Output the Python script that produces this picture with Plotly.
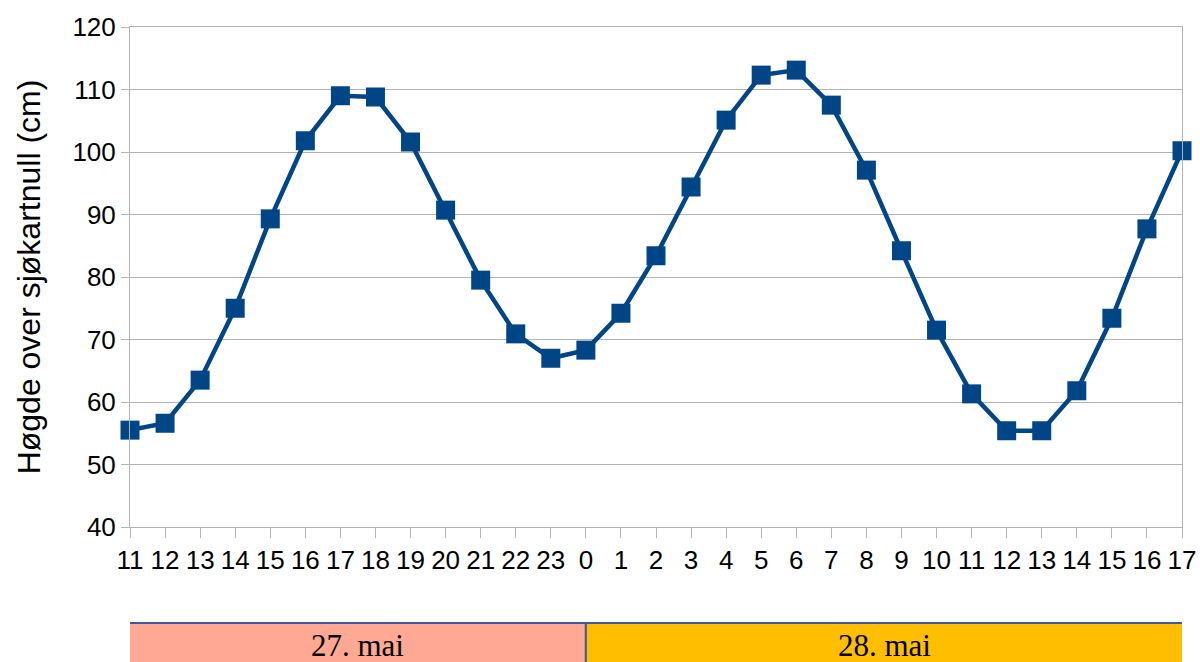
import plotly.graph_objects as go

hours = ["11", "12", "13", "14", "15", "16", "17", "18", "19", "20", "21", "22", "23",
         "0", "1", "2", "3", "4", "5", "6", "7", "8", "9", "10", "11", "12", "13", "14", "15", "16", "17"]
heights = [55.5, 56.6, 63.5, 75.0, 89.3, 101.8, 109.0, 108.8, 101.6, 90.7, 79.5, 70.9, 67.0,
           68.3, 74.2, 83.4, 94.4, 105.1, 112.3, 113.1, 107.5, 97.1, 84.2, 71.5, 61.3, 55.4, 55.4,
           61.8, 73.4, 87.7, 100.2]
days = ["27. mai", "28. mai"]
day_colors = ["#FFA893", "#FFBF00"]

idx = list(range(len(hours)))
split = hours.index("0")

fig = go.Figure()
fig.add_trace(go.Scatter(
    x=idx, y=heights, mode="lines+markers",
    line=dict(color="#004586", width=4.5),
    marker=dict(symbol="square", size=19, color="#004586"),
    showlegend=False, cliponaxis=False,
))

grey = "#b3b3b3"
fig.update_xaxes(
    range=[0, len(hours) - 1], tickvals=idx, ticktext=hours,
    showgrid=False, showline=True, linecolor=grey, linewidth=1, mirror=True,
    ticks="outside", ticklen=10, tickcolor=grey, automargin=False,
    tickfont=dict(family="Liberation Sans", size=26, color="#000000"),
    zeroline=False,
)
fig.update_yaxes(
    range=[40, 120], dtick=10, tick0=40,
    showgrid=True, gridcolor=grey, gridwidth=1,
    showline=True, linecolor=grey, linewidth=1, mirror=True,
    ticks="outside", ticklen=8, tickcolor=grey,
    tickfont=dict(family="Liberation Sans", size=26, color="#000000"),
    title=dict(text="Høgde over sjøkartnull (cm)", font=dict(family="Liberation Sans", size=32, color="#000000"), standoff=22),
    zeroline=False,
)

bounds = [(-0.05, split), (split, len(hours) - 1 + 0.03)]
for (x0, x1), label, col in zip(bounds, days, day_colors):
    fig.add_shape(type="rect", xref="x", yref="paper", x0=x0, x1=x1, y0=-0.32, y1=-0.192,
                  fillcolor=col, line=dict(color="#3B5C9C", width=2), layer="above")
    fig.add_annotation(x=(x0 + x1) / 2, y=-0.236, xref="x", yref="paper", text=label,
                       showarrow=False, yanchor="middle",
                       font=dict(family="Liberation Serif", size=31, color="#000000"))

fig.update_layout(
    width=1200, height=662,
    margin=dict(l=130, r=18, t=27, b=135),
    plot_bgcolor="white", paper_bgcolor="white",
)
fig.write_html("out.html", config={"displayModeBar": False},
               post_script="document.body.style.margin='0';document.body.style.overflow='hidden';")
